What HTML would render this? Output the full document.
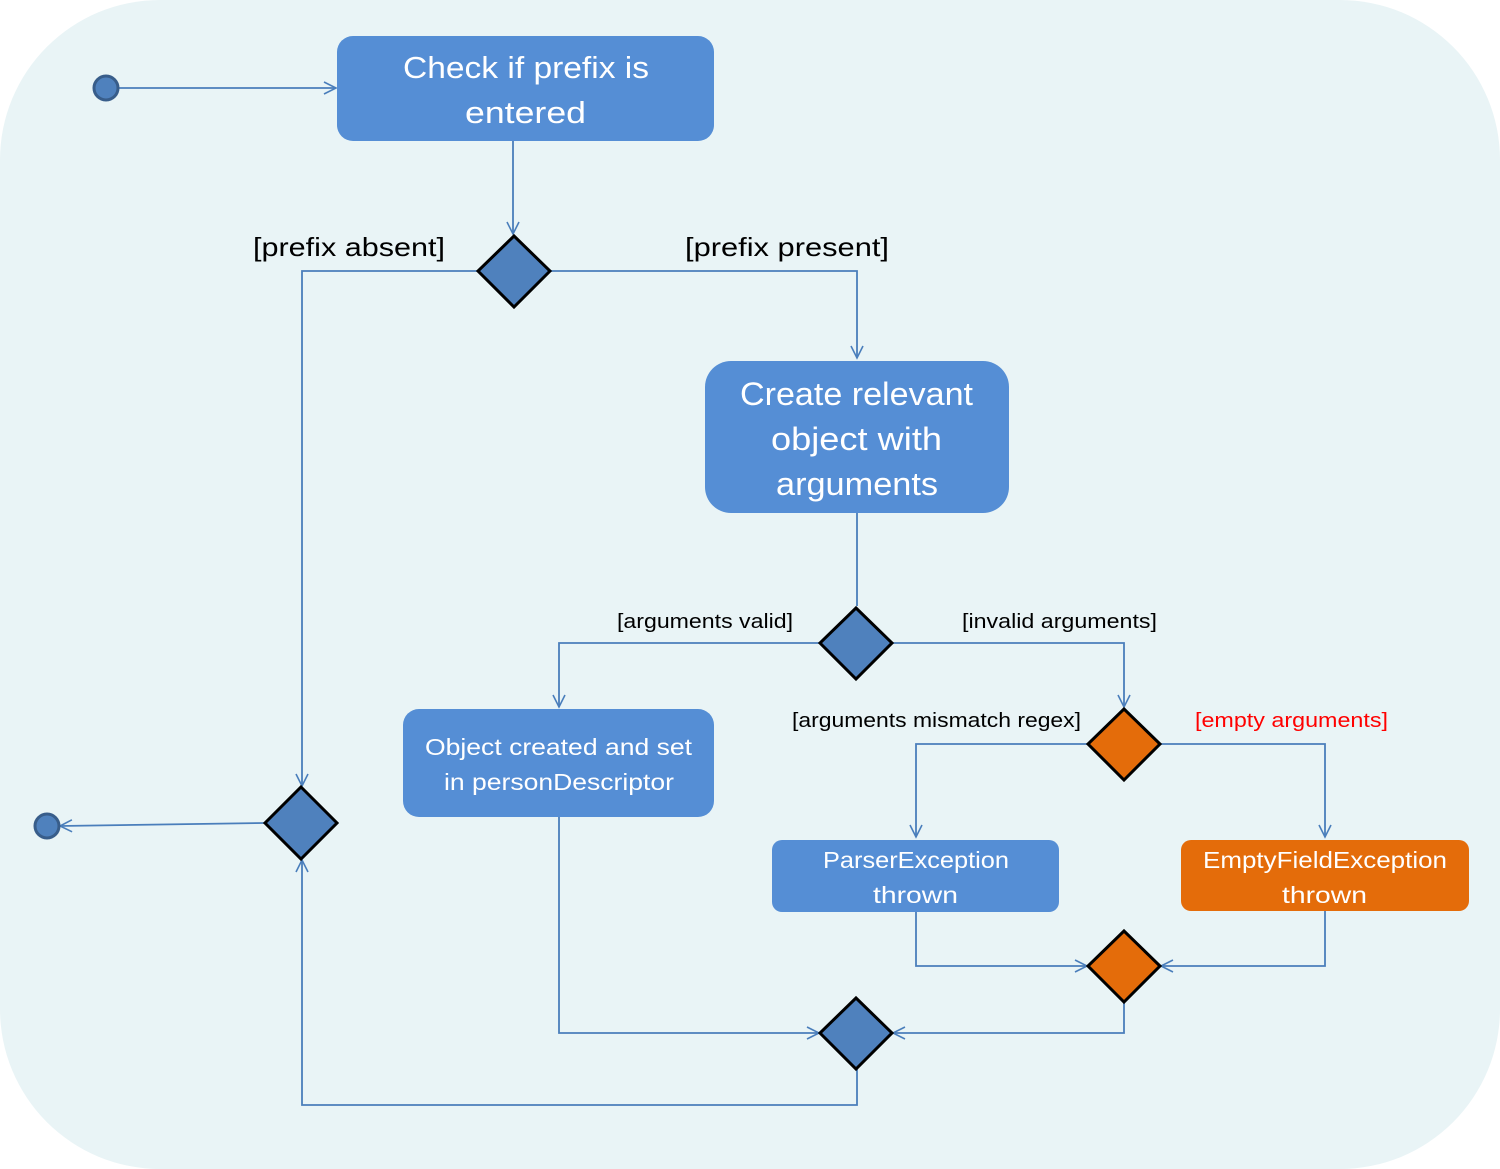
<!DOCTYPE html>
<html><head><meta charset="utf-8"><style>
html,body{margin:0;padding:0;background:#fff;}
svg{display:block;}
text{font-family:"Liberation Sans",sans-serif;}
</style></head><body>
<svg width="1500" height="1169" viewBox="0 0 1500 1169" xmlns="http://www.w3.org/2000/svg">
<defs>
<marker id="a" markerWidth="16" markerHeight="16" refX="14" refY="8" orient="auto" markerUnits="userSpaceOnUse">
<path d="M2,2 L14,8 L2,14" fill="none" stroke="#4a7ebb" stroke-width="1.6"/>
</marker>
</defs>
<rect x="0" y="0" width="1500" height="1169" rx="160" ry="160" fill="#e9f4f6"/>
<g fill="none" stroke="#4a7ebb" stroke-width="1.8">
<line x1="118" y1="88" x2="336" y2="88" marker-end="url(#a)"/>
<line x1="513" y1="141" x2="513" y2="234" marker-end="url(#a)"/>
<polyline points="478,271 302,271 302,786" marker-end="url(#a)"/>
<polyline points="550,271 857,271 857,358" marker-end="url(#a)"/>
<line x1="857" y1="513" x2="857" y2="606"/>
<polyline points="820,643 559,643 559,707" marker-end="url(#a)"/>
<polyline points="892,643 1124,643 1124,707" marker-end="url(#a)"/>
<polyline points="1088,744 916,744 916,837" marker-end="url(#a)"/>
<polyline points="1160,744 1325,744 1325,837" marker-end="url(#a)"/>
<polyline points="916,912 916,966 1087,966" marker-end="url(#a)"/>
<polyline points="1325,911 1325,966 1161,966" marker-end="url(#a)"/>
<polyline points="1124,1002 1124,1033 893,1033" marker-end="url(#a)"/>
<polyline points="559,817 559,1033 819,1033" marker-end="url(#a)"/>
<polyline points="857,1069 857,1105 302,1105 302,860" marker-end="url(#a)"/>
<line x1="265" y1="823" x2="60" y2="826" marker-end="url(#a)"/>
</g>
<circle cx="106" cy="88" r="12" fill="#4f81bd" stroke="#385d8a" stroke-width="3"/>
<circle cx="47" cy="826" r="12" fill="#4f81bd" stroke="#385d8a" stroke-width="3"/>
<g fill="#558ed5">
<rect x="337" y="36" width="377" height="105" rx="16"/>
<rect x="705" y="361" width="304" height="152" rx="26"/>
<rect x="403" y="709" width="311" height="108" rx="16"/>
<rect x="772" y="840" width="287" height="72" rx="10"/>
</g>
<rect x="1181" y="840" width="288" height="71" rx="10" fill="#e46c0a"/>
<g stroke="#000" stroke-width="3">
<polygon points="514,236 550,271 514,307 478,271" fill="#4f81bd"/>
<polygon points="301,787 337,823 301,859 265,823" fill="#4f81bd"/>
<polygon points="856,608 892,643 856,679 820,643" fill="#4f81bd"/>
<polygon points="1124,709 1160,744 1124,780 1088,744" fill="#e46c0a"/>
<polygon points="1124,931 1160,966 1124,1002 1088,966" fill="#e46c0a"/>
<polygon points="856,998 892,1033 856,1069 820,1033" fill="#4f81bd"/>
</g>
<g fill="#fff" lengthAdjust="spacingAndGlyphs">
<text x="403" y="78" font-size="31" textLength="246" lengthAdjust="spacingAndGlyphs">Check if prefix is</text>
<text x="465" y="123" font-size="31" textLength="121" lengthAdjust="spacingAndGlyphs">entered</text>
<text x="740" y="405" font-size="32" textLength="233" lengthAdjust="spacingAndGlyphs">Create relevant</text>
<text x="771" y="450" font-size="32" textLength="171" lengthAdjust="spacingAndGlyphs">object with</text>
<text x="776" y="495" font-size="32" textLength="162" lengthAdjust="spacingAndGlyphs">arguments</text>
<text x="425" y="755" font-size="23" textLength="267" lengthAdjust="spacingAndGlyphs">Object created and set</text>
<text x="444" y="790" font-size="23" textLength="230" lengthAdjust="spacingAndGlyphs">in personDescriptor</text>
<text x="823" y="868" font-size="23" textLength="186" lengthAdjust="spacingAndGlyphs">ParserException</text>
<text x="873" y="903" font-size="23" textLength="85" lengthAdjust="spacingAndGlyphs">thrown</text>
<text x="1203" y="868" font-size="23" textLength="244" lengthAdjust="spacingAndGlyphs">EmptyFieldException</text>
<text x="1282" y="903" font-size="23" textLength="85" lengthAdjust="spacingAndGlyphs">thrown</text>
</g>
<g fill="#000">
<text x="253" y="256" font-size="26" textLength="192" lengthAdjust="spacingAndGlyphs">[prefix absent]</text>
<text x="685" y="256" font-size="26" textLength="204" lengthAdjust="spacingAndGlyphs">[prefix present]</text>
<text x="617" y="628" font-size="20" textLength="176" lengthAdjust="spacingAndGlyphs">[arguments valid]</text>
<text x="962" y="628" font-size="20" textLength="195" lengthAdjust="spacingAndGlyphs">[invalid arguments]</text>
<text x="792" y="727" font-size="20" textLength="289" lengthAdjust="spacingAndGlyphs">[arguments mismatch regex]</text>
</g>
<text x="1195" y="727" font-size="20" fill="#ff0000" textLength="193" lengthAdjust="spacingAndGlyphs">[empty arguments]</text>
</svg>
</body></html>
